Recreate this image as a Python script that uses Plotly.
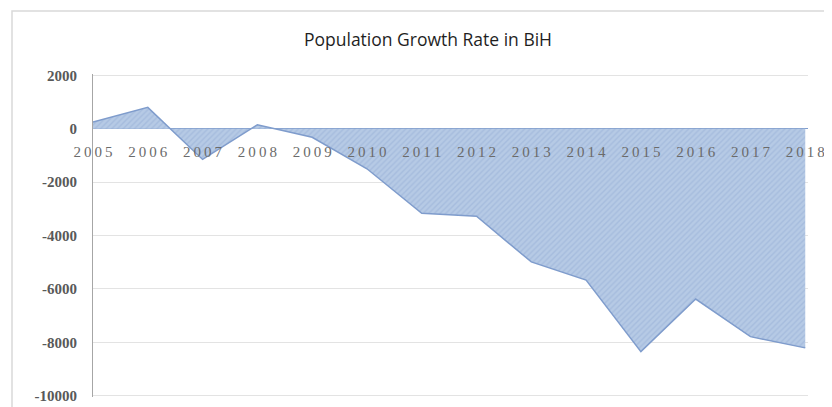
import plotly.graph_objects as go

years = [2005, 2006, 2007, 2008, 2009, 2010, 2011, 2012, 2013, 2014, 2015, 2016, 2017, 2018]
growth = [250, 800, -1150, 150, -320, -1500, -3170, -3280, -4990, -5670, -8350, -6380, -7790, -8210]
y_ticks = [2000, 0, -2000, -4000, -6000, -8000, -10000]
y_tick_labels = ["2000", "0", "-2000", "-4000", "-6000", "-8000", "-10000"]
title_text = "Population Growth Rate in BiH"

y_min, y_max = -10000, 2000
pad = 50  # small range padding so the edge gridlines are drawn
x_labels = ["\u2009".join(str(y)) for y in years]

# page body has an 8px margin, so the figure is sized to the visible area
W, H = 824, 399

fig = go.Figure()
fig.add_trace(go.Scatter(
    x=years, y=growth, mode="lines", fill="tozeroy",
    line=dict(color="#7f9ccc", width=1.5),
    fillcolor="#b3c7e3",
    fillpattern=dict(shape="/", bgcolor="#b6cae5", fgcolor="#95aed6", size=4, solidity=0.35),
    hoverinfo="x+y", showlegend=False,
))

fig.update_layout(
    width=W, height=H,
    margin=dict(l=85, r=24, t=66, b=10, autoexpand=False),
    paper_bgcolor="white", plot_bgcolor="white",
    title=dict(text=title_text, x=420 / W, xref="container", xanchor="center",
               y=1 - 32 / H, yanchor="middle", yref="container", automargin=False,
               font=dict(family="Open Sans", size=17.5, color="#1f1f1f")),
    xaxis=dict(
        range=[years[0], years[-1] + 0.05],
        tickmode="array", tickvals=years, ticktext=x_labels,
        anchor="free", position=(0 - (y_min - pad)) / ((y_max + pad) - (y_min - pad)),
        showgrid=False, zeroline=False, showline=False, ticks="",
        ticklabelstandoff=12, automargin=False,
        tickfont=dict(family="Liberation Serif", size=15, color="#6b6b6b"),
    ),
    yaxis=dict(
        range=[y_min - pad, y_max + pad], tickmode="array", tickvals=y_ticks, ticktext=y_tick_labels,
        showgrid=True, gridcolor="#e3e3e3", gridwidth=1,
        zeroline=True, zerolinecolor="#7f9ccc", zerolinewidth=1,
        showline=True, linecolor="#a6a6a6", linewidth=1, ticks="",
        ticklabelstandoff=12, automargin=False,
        tickfont=dict(family="Liberation Serif", size=15, color="#595959", weight="bold"),
    ),
    shapes=[dict(
        type="rect", xref="paper", yref="paper",
        xsizemode="pixel", ysizemode="pixel", xanchor=0, yanchor=1,
        x0=-81, x1=900, y0=63, y1=-500,
        line=dict(color="#d9d9d9", width=1.5), fillcolor="rgba(0,0,0,0)", layer="below",
    )],
)

fig.write_html("out.html")
